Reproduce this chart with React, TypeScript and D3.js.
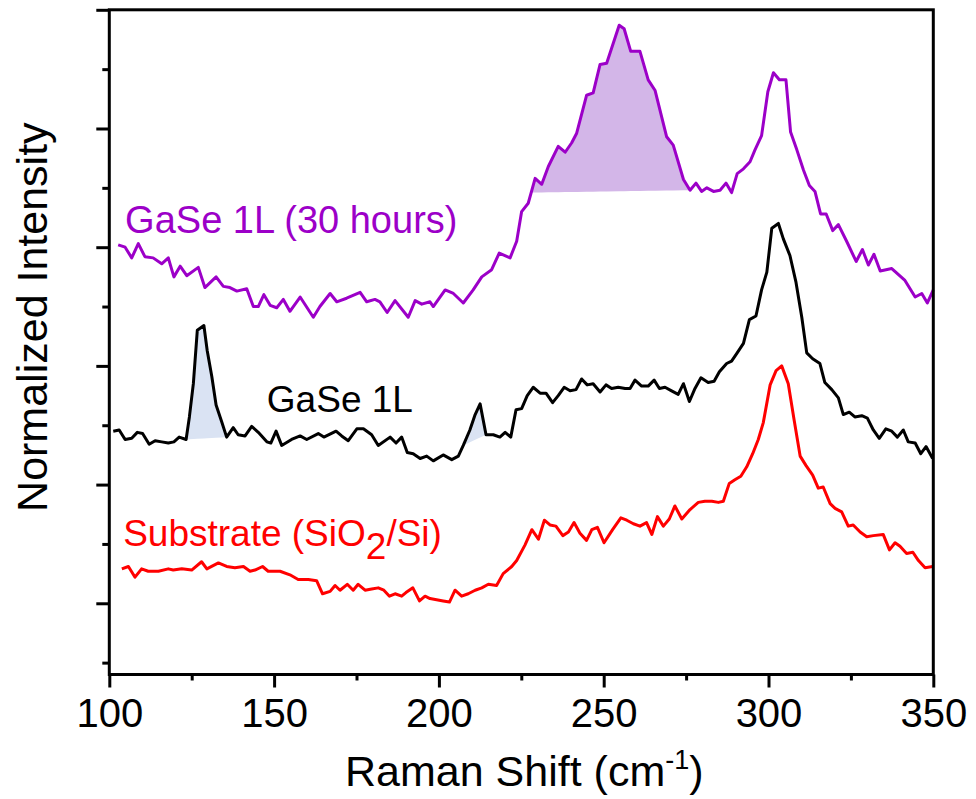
import React, { useEffect, useRef } from "react";
import * as d3 from "d3";

// Raman spectra, [shift (cm-1), normalized intensity incl. vertical offset]
const agedSpectrum: [number, number][] = [
  [102.7, 3.02], [104.8, 3.0], [106.8, 2.91], [108.8, 3.03], [110.8, 2.92], [113.3, 2.91],
  [115.9, 2.86], [117.9, 2.91], [119.6, 2.75], [121.5, 2.84], [123.5, 2.76], [127.0, 2.83],
  [129.0, 2.66], [132.4, 2.75], [134.6, 2.67], [136.6, 2.66], [138.7, 2.63], [141.7, 2.65],
  [143.7, 2.5], [145.2, 2.5], [146.9, 2.6], [148.8, 2.51], [150.8, 2.49], [152.8, 2.56],
  [154.8, 2.46], [157.9, 2.58], [161.9, 2.41], [163.9, 2.5], [167.0, 2.61], [169.0, 2.54],
  [172.0, 2.57], [176.1, 2.62], [178.1, 2.54], [180.6, 2.56], [182.1, 2.54], [184.3, 2.45],
  [186.7, 2.55], [190.7, 2.41], [192.8, 2.55], [194.8, 2.52], [197.3, 2.54], [198.3, 2.5],
  [201.9, 2.64], [204.4, 2.61], [207.4, 2.53], [210.4, 2.64], [213.0, 2.75], [216.0, 2.81],
  [218.3, 2.95], [221.6, 2.91], [223.6, 3.05], [225.1, 3.3], [227.1, 3.37], [229.2, 3.58],
  [231.2, 3.53], [233.2, 3.68], [236.2, 3.85], [238.3, 3.8], [240.3, 3.88], [241.8, 3.96],
  [244.8, 4.28], [246.8, 4.3], [248.9, 4.54], [250.9, 4.55], [254.7, 4.87], [256.2, 4.84],
  [258.2, 4.65], [261.0, 4.65], [263.5, 4.41], [265.6, 4.32], [269.1, 3.93], [271.1, 3.86],
  [274.2, 3.57], [276.2, 3.48], [278.0, 3.54], [279.7, 3.47], [281.3, 3.5], [283.3, 3.47],
  [285.3, 3.48], [287.1, 3.54], [288.8, 3.46], [290.5, 3.62], [292.4, 3.66], [294.4, 3.72],
  [295.9, 3.82], [297.9, 3.94], [299.8, 4.31], [301.5, 4.47], [303.3, 4.41], [305.3, 4.41],
  [306.7, 3.97], [308.6, 3.82], [310.6, 3.65], [312.4, 3.52], [314.1, 3.47], [315.8, 3.28],
  [317.5, 3.28], [319.5, 3.14], [321.2, 3.19], [323.7, 3.05], [326.6, 2.88], [328.5, 2.98],
  [330.3, 2.85], [332.0, 2.94], [333.9, 2.8], [337.4, 2.82], [341.4, 2.72], [344.5, 2.58],
  [346.5, 2.61], [348.2, 2.53], [350.0, 2.64],
];

const freshSpectrum: [number, number][] = [
  [101.2, 1.45], [103.0, 1.46], [104.8, 1.38], [106.8, 1.39], [108.5, 1.44], [110.1, 1.43],
  [112.1, 1.34], [113.9, 1.37], [115.9, 1.36], [117.9, 1.35], [119.6, 1.36], [121.2, 1.4],
  [123.3, 1.38], [124.3, 1.57], [125.5, 1.85], [126.7, 2.3], [128.7, 2.34], [129.7, 2.13],
  [131.1, 1.91], [132.4, 1.67], [134.1, 1.53], [135.6, 1.4], [137.6, 1.48], [139.1, 1.42],
  [141.2, 1.41], [143.2, 1.49], [145.2, 1.44], [147.8, 1.36], [149.0, 1.35], [150.6, 1.45],
  [152.3, 1.33], [155.3, 1.38], [157.9, 1.41], [159.9, 1.38], [163.4, 1.43], [165.1, 1.4],
  [168.8, 1.45], [170.5, 1.41], [172.5, 1.37], [175.1, 1.47], [177.1, 1.47], [179.6, 1.42],
  [181.6, 1.33], [185.2, 1.4], [187.0, 1.35], [188.7, 1.4], [190.4, 1.27], [192.2, 1.26],
  [194.3, 1.22], [196.3, 1.24], [198.3, 1.2], [201.3, 1.25], [203.9, 1.21], [205.9, 1.24],
  [207.4, 1.33], [209.4, 1.46], [211.0, 1.59], [212.5, 1.68], [214.3, 1.42], [216.5, 1.42],
  [218.5, 1.4], [220.1, 1.44], [221.8, 1.4], [223.4, 1.63], [225.1, 1.64], [226.8, 1.75],
  [228.6, 1.82], [230.7, 1.77], [232.5, 1.77], [234.5, 1.69], [236.2, 1.75], [238.0, 1.82],
  [239.8, 1.79], [241.6, 1.8], [243.3, 1.89], [245.0, 1.84], [246.8, 1.85], [248.9, 1.78],
  [250.7, 1.84], [252.4, 1.81], [254.4, 1.82], [256.5, 1.81], [258.0, 1.81], [259.5, 1.88],
  [261.5, 1.83], [263.5, 1.83], [265.3, 1.88], [266.9, 1.81], [268.6, 1.82], [270.6, 1.79],
  [272.6, 1.76], [274.2, 1.85], [276.0, 1.7], [277.7, 1.81], [279.5, 1.9], [281.7, 1.86],
  [283.5, 1.87], [285.1, 1.95], [287.3, 2.02], [288.8, 2.04], [290.5, 2.11], [292.4, 2.19],
  [294.2, 2.39], [296.2, 2.42], [297.9, 2.64], [299.5, 2.79], [301.0, 3.16], [303.0, 3.2],
  [304.5, 3.07], [306.5, 2.93], [308.3, 2.71], [310.1, 2.41], [311.6, 2.11], [313.4, 2.06],
  [315.6, 2.02], [317.1, 1.86], [319.2, 1.8], [321.2, 1.73], [322.7, 1.59], [324.5, 1.61],
  [326.2, 1.57], [328.3, 1.58], [330.0, 1.56], [331.8, 1.46], [333.6, 1.39], [335.6, 1.47],
  [337.4, 1.45], [339.1, 1.4], [340.9, 1.46], [342.4, 1.36], [344.5, 1.35], [346.2, 1.26],
  [347.8, 1.32], [349.8, 1.22],
];

const substrateSpectrum: [number, number][] = [
  [103.8, 0.29], [105.8, 0.31], [107.8, 0.22], [109.8, 0.29], [111.8, 0.27], [114.9, 0.27],
  [117.9, 0.29], [119.4, 0.28], [122.0, 0.29], [125.0, 0.28], [128.0, 0.35], [129.6, 0.29],
  [133.1, 0.34], [135.6, 0.31], [138.1, 0.3], [140.7, 0.31], [142.7, 0.27], [144.2, 0.28],
  [146.5, 0.31], [148.2, 0.27], [151.8, 0.27], [154.8, 0.24], [157.3, 0.2], [160.4, 0.2],
  [162.9, 0.19], [164.7, 0.08], [167.0, 0.1], [168.5, 0.15], [170.0, 0.11], [172.2, 0.16],
  [174.0, 0.11], [175.5, 0.16], [177.6, 0.11], [179.6, 0.12], [181.6, 0.13], [183.3, 0.11],
  [185.0, 0.06], [186.7, 0.08], [188.7, 0.06], [190.0, 0.09], [192.1, 0.13], [194.1, 0.02],
  [195.8, 0.06], [197.3, 0.04], [199.3, 0.03], [201.3, 0.02], [203.2, 0.01], [204.9, 0.11],
  [206.9, 0.06], [208.9, 0.08], [211.0, 0.11], [213.0, 0.13], [215.0, 0.16], [217.5, 0.15],
  [219.5, 0.25], [222.1, 0.31], [223.6, 0.36], [226.1, 0.49], [228.2, 0.62], [230.2, 0.54],
  [232.0, 0.7], [233.7, 0.66], [235.5, 0.65], [237.6, 0.57], [239.3, 0.6], [241.0, 0.68],
  [242.8, 0.59], [244.8, 0.53], [246.4, 0.62], [248.1, 0.64], [250.1, 0.51], [252.7, 0.62],
  [255.2, 0.72], [257.0, 0.7], [259.0, 0.67], [261.0, 0.65], [263.0, 0.68], [264.6, 0.58],
  [266.3, 0.73], [268.1, 0.65], [269.9, 0.71], [271.6, 0.82], [273.7, 0.71], [276.2, 0.79],
  [278.7, 0.85], [280.7, 0.86], [282.8, 0.86], [284.8, 0.85], [286.3, 0.86], [288.1, 1.01],
  [289.8, 1.04], [291.6, 1.07], [293.4, 1.15], [295.2, 1.26], [296.9, 1.38], [298.4, 1.52],
  [300.5, 1.84], [302.3, 1.96], [304.0, 2.0], [306.0, 1.85], [307.8, 1.54], [309.6, 1.24],
  [311.4, 1.16], [313.4, 1.08], [315.1, 0.97], [316.6, 0.98], [318.7, 0.84], [320.2, 0.8],
  [322.2, 0.77], [324.2, 0.65], [325.7, 0.66], [327.8, 0.6], [329.8, 0.56], [331.8, 0.57],
  [334.8, 0.58], [336.7, 0.45], [338.4, 0.51], [339.9, 0.48], [341.9, 0.42], [343.8, 0.43],
  [345.5, 0.36], [347.5, 0.3], [349.8, 0.31],
];

// shaded peak ranges (shift)
const agedPeaks: [number, number][] = [[228.0, 276.2]];
const freshPeaks: [number, number][] = [[123.3, 135.6], [207.4, 214.3]];

const xMajorTicks = [100, 150, 200, 250, 300, 350];
const xMinorTicks = [125, 175, 225, 275, 325];
const yMajorTicks = [0, 1, 2, 3, 4, 5];
const yMinorTicks = [-0.5, 0.5, 1.5, 2.5, 3.5, 4.5];

// label anchors: [shift, intensity]
const agedLabel = { text: "GaSe 1L (30 hours)", at: [104.8, 3.12] };
const freshLabel = { text: "GaSe 1L", at: [147.8, 1.61] };
const substrateLabel = { at: [104.2, 0.48] };

const PURPLE = "#9c00c8";
const FONT = "'Liberation Sans', Arial, sans-serif";

export default function App() {
  const svgRef = useRef<SVGSVGElement>(null);

  useEffect(() => {
    const width = 976;
    const height = 799;
    const svg = d3.select(svgRef.current);
    svg.selectAll("*").remove();

    const x = d3.scaleLinear().domain([100, 350]).range([109.3, 933.3]);
    const y = d3.scaleLinear().domain([-0.6, 5]).range([674.5, 9.8]);

    const line = d3
      .line<[number, number]>()
      .x((d) => x(d[0]))
      .y((d) => y(d[1]));

    // area between the curve and the chord joining its two ends
    const peakArea = (data: [number, number][], range: [number, number]) => {
      const interp = (s: number) => {
        const i = data.findIndex((d) => d[0] >= s);
        if (i <= 0) return data[Math.max(i, 0)][1];
        const a = data[i - 1];
        const b = data[i];
        return a[1] + ((b[1] - a[1]) * (s - a[0])) / (b[0] - a[0]);
      };
      const y0 = interp(range[0]);
      const y1 = interp(range[1]);
      const chord = d3.scaleLinear().domain(range).range([y0, y1]);
      const pts: [number, number][] = [
        [range[0], y0],
        ...data.filter((d) => d[0] > range[0] && d[0] < range[1]),
        [range[1], y1],
      ];
      return d3
        .area<[number, number]>()
        .x((d) => x(d[0]))
        .y0((d) => y(chord(d[0])))
        .y1((d) => y(d[1]))(pts);
    };

    const g = svg.append("g");

    agedPeaks.forEach((r) => {
      g.append("path").attr("d", peakArea(agedSpectrum, r)).attr("fill", "#d3b6e8");
    });
    freshPeaks.forEach((r) => {
      g.append("path").attr("d", peakArea(freshSpectrum, r)).attr("fill", "#dae3f3");
    });

    const series: [[number, number][], string][] = [
      [substrateSpectrum, "#ff0000"],
      [freshSpectrum, "#000000"],
      [agedSpectrum, PURPLE],
    ];
    series.forEach(([data, color]) => {
      g.append("path")
        .attr("d", line(data))
        .attr("fill", "none")
        .attr("stroke", color)
        .attr("stroke-width", 3)
        .attr("stroke-linejoin", "round");
    });

    // frame
    svg
      .append("rect")
      .attr("x", x(100))
      .attr("y", y(5))
      .attr("width", x(350) - x(100))
      .attr("height", y(-0.6) - y(5))
      .attr("fill", "none")
      .attr("stroke", "#000")
      .attr("stroke-width", 3);

    const styleAxis = (sel: any) => {
      sel.select(".domain").remove();
      sel.selectAll("line").attr("stroke", "#000").attr("stroke-width", 3);
    };

    const xAxis = svg.append("g").attr("transform", `translate(0, ${y(-0.6)})`);
    xAxis
      .call(
        d3.axisBottom(x).tickValues(xMajorTicks).tickSize(13).tickPadding(11).tickFormat(d3.format("d"))
      )
      .call(styleAxis);
    xAxis
      .selectAll("text")
      .attr("font-family", FONT)
      .attr("font-size", 40)
      .attr("fill", "#000");
    svg
      .append("g")
      .attr("transform", `translate(0, ${y(-0.6)})`)
      .call(d3.axisBottom(x).tickValues(xMinorTicks).tickSize(6).tickFormat(() => ""))
      .call(styleAxis);

    svg
      .append("g")
      .attr("transform", `translate(${x(100)}, 0)`)
      .call(d3.axisLeft(y).tickValues(yMajorTicks).tickSize(13).tickFormat(() => ""))
      .call(styleAxis);
    svg
      .append("g")
      .attr("transform", `translate(${x(100)}, 0)`)
      .call(d3.axisLeft(y).tickValues(yMinorTicks).tickSize(7).tickFormat(() => ""))
      .call(styleAxis);

    // axis titles
    const xTitle = svg
      .append("text")
      .attr("x", (x(100) + x(350)) / 2 + 3)
      .attr("y", 786)
      .attr("text-anchor", "middle")
      .attr("font-family", FONT)
      .attr("font-size", 43);
    xTitle.append("tspan").text("Raman Shift (cm");
    xTitle.append("tspan").attr("font-size", 27).attr("dy", -17).text("-1");
    xTitle.append("tspan").attr("dy", 17).text(")");

    svg
      .append("text")
      .attr("transform", `translate(47, ${(y(5) + y(-0.6)) / 2 - 25}) rotate(-90)`)
      .attr("text-anchor", "middle")
      .attr("font-family", FONT)
      .attr("font-size", 43)
      .text("Normalized Intensity");

    // series labels
    svg
      .append("text")
      .attr("x", x(agedLabel.at[0]))
      .attr("y", y(agedLabel.at[1]))
      .attr("font-family", FONT)
      .attr("font-size", 38)
      .attr("fill", PURPLE)
      .text(agedLabel.text);
    svg
      .append("text")
      .attr("x", x(freshLabel.at[0]))
      .attr("y", y(freshLabel.at[1]))
      .attr("font-family", FONT)
      .attr("font-size", 37)
      .attr("fill", "#000")
      .text(freshLabel.text);
    const subText = svg
      .append("text")
      .attr("x", x(substrateLabel.at[0]))
      .attr("y", y(substrateLabel.at[1]))
      .attr("font-family", FONT)
      .attr("font-size", 37)
      .attr("fill", "#ff0000");
    subText.append("tspan").text("Substrate (SiO");
    subText.append("tspan").attr("dy", 13).text("2");
    subText.append("tspan").attr("dy", -13).text("/Si)");

    svg.attr("width", width).attr("height", height);
  }, []);

  return (
    <svg
      ref={svgRef}
      width={976}
      height={799}
      style={{ position: "absolute", left: 0, top: 0, background: "#fff" }}
    />
  );
}
